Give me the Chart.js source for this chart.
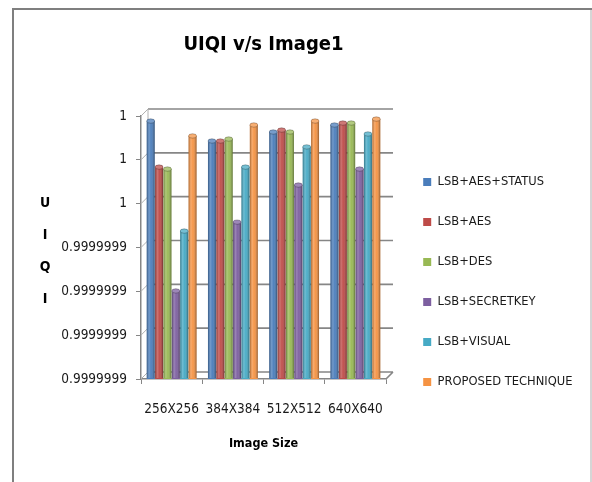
<!DOCTYPE html>
<html><head><meta charset="utf-8">
<script src="https://cdn.jsdelivr.net/npm/chart.js@4"></script>
<style>html,body{margin:0;padding:0;background:#fff}</style>
</head><body>
<canvas id="c" width="592" height="482"></canvas>
<script>
// ---- data ----
const CATEGORIES = ['256X256', '384X384', '512X512', '640X640'];
const SERIES_NAMES = ['LSB+AES+STATUS', 'LSB+AES', 'LSB+DES', 'LSB+SECRETKEY', 'LSB+VISUAL', 'PROPOSED TECHNIQUE'];
const LSB_AES_STATUS = [0.9999999977, 0.9999999886, 0.9999999927, 0.9999999959];
const LSB_AES        = [0.9999999767, 0.9999999886, 0.9999999936, 0.9999999968];
const LSB_DES        = [0.9999999758, 0.9999999895, 0.9999999927, 0.9999999968];
const LSB_SECRETKEY  = [0.9999999202, 0.9999999516, 0.9999999685, 0.9999999758];
const LSB_VISUAL     = [0.9999999475, 0.9999999767, 0.9999999859, 0.9999999918];
const PROPOSED       = [0.9999999909, 0.9999999959, 0.9999999977, 0.9999999986];
const TICK_VALUES = [0.99999988, 0.9999999, 0.99999992, 0.99999994, 0.99999996, 0.99999998, 1];
const TICK_LABELS = ['0.9999999', '0.9999999', '0.9999999', '0.9999999', '1', '1', '1'];
const Y_TITLE_LETTERS = ['U', 'I', 'Q', 'I'];
const TITLE = 'UIQI v/s Image1';
const X_TITLE = 'Image Size';

// ---- styles ----
const COLORS = ['#4A7DBB', '#BE4B48', '#98B954', '#7D5FA0', '#46AAC5', '#F59343'];
const FONT = "'DejaVu Sans Condensed','Liberation Sans Narrow',sans-serif";
const GRID = '#868686';
const DEPTH = 7;
const LEGEND_WIDTH = 196;

const SERIES = [LSB_AES_STATUS, LSB_AES, LSB_DES, LSB_SECRETKEY, LSB_VISUAL, PROPOSED];

const framePlugin = {
  id: 'frame',
  afterInit(chart) {
    const lg = chart.legend;
    if (lg && !lg._patched) {
      const f = lg.fit;
      lg.fit = function () { f.call(this); this.width = LEGEND_WIDTH; };
      lg._patched = true;
    }
  },
  beforeDraw(chart) {
    const ctx = chart.ctx;
    ctx.save();
    ctx.fillStyle = '#fff';
    ctx.fillRect(0, 0, chart.width, chart.height);
    ctx.strokeStyle = '#7f7f7f';
    ctx.lineWidth = 2;
    ctx.beginPath();
    ctx.moveTo(12, 9); ctx.lineTo(592, 9);
    ctx.moveTo(13, 9); ctx.lineTo(13, 482);
    ctx.stroke();
    ctx.strokeStyle = '#c8c8c8';
    ctx.lineWidth = 1.5;
    ctx.beginPath();
    ctx.moveTo(591, 10); ctx.lineTo(591, 482);
    ctx.stroke();
    ctx.restore();
  }
};

const wallPlugin = {
  id: 'wall',
  beforeDatasetsDraw(chart) {
    const {ctx, chartArea: a, scales} = chart;
    const y = scales.y;
    ctx.save();
    ctx.strokeStyle = GRID;
    ctx.lineWidth = 1.6;
    ctx.beginPath();
    y.ticks.forEach(t => {
      const py = y.getPixelForValue(t.value);
      ctx.moveTo(a.left + DEPTH, py - DEPTH);
      ctx.lineTo(a.right + DEPTH, py - DEPTH);
    });
    ctx.moveTo(a.right, a.bottom); ctx.lineTo(a.right + DEPTH, a.bottom - DEPTH);
    ctx.stroke();
    ctx.strokeStyle = '#b0b0b0';
    ctx.lineWidth = 1;
    ctx.beginPath();
    y.ticks.forEach(t => {
      const py = y.getPixelForValue(t.value);
      ctx.moveTo(a.left, py);
      ctx.lineTo(a.left + DEPTH, py - DEPTH);
    });
    ctx.moveTo(a.left + DEPTH, a.top - DEPTH); ctx.lineTo(a.left + DEPTH, a.bottom - DEPTH);
    ctx.stroke();
    ctx.restore();
  }
};

const cylinderPlugin = {
  id: 'cylinder',
  afterDatasetsDraw(chart) {
    const ctx = chart.ctx;
    const a = chart.chartArea;
    ctx.save();
    chart.data.datasets.forEach((ds, di) => {
      const meta = chart.getDatasetMeta(di);
      meta.data.forEach(el => {
        const p = el.getProps(['x', 'y', 'base', 'width'], true);
        const x = p.x, y = p.y, width = p.width;
        const base = Math.min(p.base, a.bottom) - 1;
        const l = x - width / 2;
        const g = ctx.createLinearGradient(l, 0, l + width, 0);
        g.addColorStop(0, 'rgba(0,0,0,0.3)');
        g.addColorStop(0.3, 'rgba(255,255,255,0.22)');
        g.addColorStop(0.55, 'rgba(255,255,255,0.04)');
        g.addColorStop(1, 'rgba(0,0,0,0.4)');
        ctx.fillStyle = g;
        ctx.fillRect(l, y, width, base - y);
        // top cap
        ctx.beginPath();
        ctx.ellipse(x, y, width / 2, 2.2, 0, 0, Math.PI * 2);
        ctx.fillStyle = ds.backgroundColor;
        ctx.fill();
        ctx.fillStyle = 'rgba(255,255,255,0.25)';
        ctx.fill();
        ctx.strokeStyle = 'rgba(0,0,0,0.3)';
        ctx.lineWidth = 0.8;
        ctx.stroke();
      });
    });
    ctx.restore();
  }
};

const yTitlePlugin = {
  id: 'ytitle',
  afterDraw(chart) {
    const ctx = chart.ctx;
    ctx.save();
    ctx.fillStyle = '#000';
    ctx.font = "bold 14px " + FONT;
    ctx.textAlign = 'center';
    ctx.textBaseline = 'middle';
    Y_TITLE_LETTERS.forEach((ch, i) => ctx.fillText(ch, 45, 203 + i * 32));
    ctx.restore();
  }
};

new Chart(document.getElementById('c'), {
  type: 'bar',
  data: {
    labels: CATEGORIES,
    datasets: SERIES.map((d, i) => ({
      label: SERIES_NAMES[i],
      data: d,
      backgroundColor: COLORS[i],
      borderWidth: 0,
      categoryPercentage: 0.82,
      barPercentage: 0.95
    }))
  },
  plugins: [framePlugin, wallPlugin, cylinderPlugin, yTitlePlugin],
  options: {
    responsive: false,
    animation: false,
    layout: { padding: 0 },
    plugins: {
      tooltip: { enabled: false },
      title: {
        display: true, text: TITLE, fullSize: false, color: '#000',
        font: { family: FONT, size: 20, weight: 'bold' },
        padding: { top: 33, bottom: 59 }
      },
      legend: {
        position: 'right',
        align: 'start',
        title: { display: true, text: '', font: { size: 12 }, padding: { top: 134, bottom: 0 } },
        labels: {
          boxWidth: 8, boxHeight: 8, padding: 27.2, color: '#1a1a1a',
          font: { family: FONT, size: 12.8 }
        }
      }
    },
    scales: {
      x: {
        offset: true,
        grid: { display: true, drawOnChartArea: false, drawTicks: true, tickLength: 5, color: GRID, offset: true },
        border: { display: true, color: GRID, width: 1.5 },
        ticks: { color: '#1a1a1a', font: { family: FONT, size: 13.5 }, padding: 17, maxRotation: 0, autoSkip: false },
        title: { display: true, text: X_TITLE, color: '#000', font: { family: FONT, size: 12.5, weight: 'bold' }, padding: { top: 4, bottom: 31 } },
        afterFit(s) { s.height = 103; }
      },
      y: {
        min: TICK_VALUES[0],
        max: TICK_VALUES[TICK_VALUES.length - 1],
        grid: { display: true, drawOnChartArea: false, drawTicks: true, tickLength: 5, color: GRID },
        border: { display: true, color: GRID, width: 1.5 },
        ticks: { color: '#1a1a1a', font: { family: FONT, size: 13.5 }, padding: 9, callback: (v, i) => TICK_LABELS[i] },
        afterBuildTicks(s) { s.ticks = TICK_VALUES.map(v => ({ value: v })); },
        afterFit(s) { s.width = 141; }
      },
      yR: {
        type: 'linear', position: 'right', display: true,
        grid: { display: false, drawTicks: false }, border: { display: false },
        ticks: { display: false },
        afterFit(s) { s.width = 10; }
      }
    }
  }
});
</script>
</body></html>
